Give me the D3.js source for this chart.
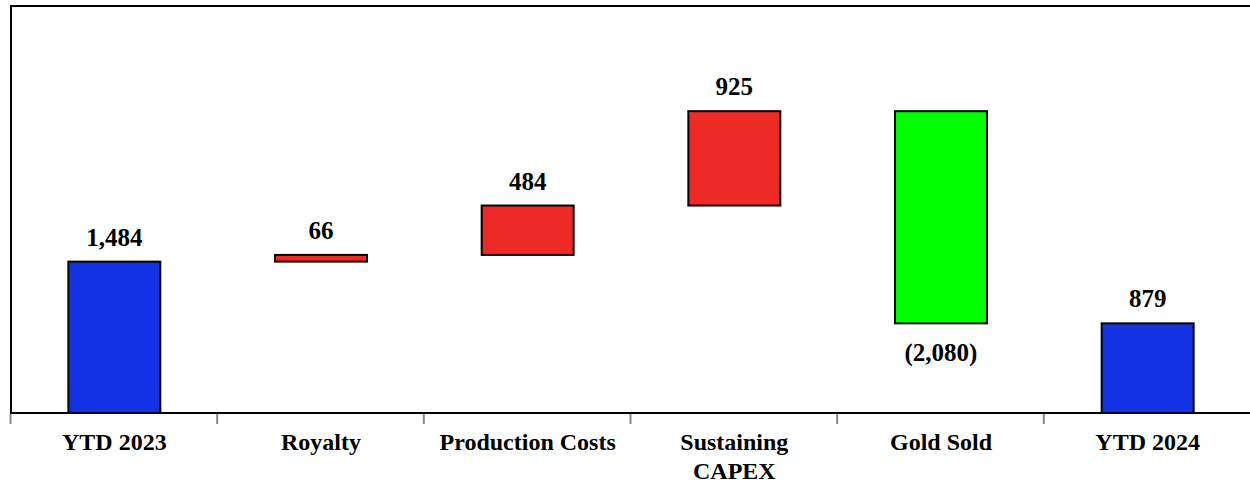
<!DOCTYPE html>
<html>
<head>
<meta charset="utf-8">
<script src="https://cdn.jsdelivr.net/npm/d3@7"></script>
<style>
  html, body { margin: 0; padding: 0; background: #fff; }
  svg { display: block; }
  text { font-family: "Liberation Serif", "Times New Roman", serif; font-weight: bold; fill: #000; }
</style>
</head>
<body>
<script>
// Waterfall: opening balance, changes, closing balance
const categories = ["YTD 2023", "Royalty", "Production Costs", "Sustaining CAPEX", "Gold Sold", "YTD 2024"];
const changes    = [1484, 66, 484, 925, -2080, 879];
const kinds      = ["total", "step", "step", "step", "step", "total"];
const labels     = ["1,484", "66", "484", "925", "(2,080)", "879"];

const colors = { total: "#1232e4", up: "#ee2a27", down: "#00ff00" };

const W = 1250, H = 485;
const plotLeft = 10, plotRight = 1250, plotTop = 5, plotBase = 413;

const svg = d3.select("body").append("svg").attr("width", W).attr("height", H);

const x = d3.scaleBand().domain(categories).range([plotLeft, plotRight]).padding(0);
const y = d3.scaleLinear().domain([0, 4000]).range([plotBase, plotTop]);

// running start/end for each bar
let running = 0;
const bars = categories.map((c, i) => {
  let y0, y1;
  if (kinds[i] === "total") { y0 = 0; y1 = changes[i]; running = changes[i]; }
  else { y0 = running; y1 = running + changes[i]; running = y1; }
  return { cat: c, y0, y1, v: changes[i], kind: kinds[i], label: labels[i] };
});

const barW = x.bandwidth() * 0.445;

svg.append("g").selectAll("rect").data(bars).join("rect")
  .attr("x", d => x(d.cat) + (x.bandwidth() - barW) / 2 + 1)
  .attr("y", d => y(Math.max(d.y0, d.y1)))
  .attr("width", barW)
  .attr("height", d => Math.abs(y(d.y0) - y(d.y1)))
  .attr("fill", d => d.kind === "total" ? colors.total : (d.v >= 0 ? colors.up : colors.down))
  .attr("stroke", "#000")
  .attr("stroke-width", 2);

// value labels: above for increases/totals, below for decreases
svg.append("g").selectAll("text").data(bars).join("text")
  .attr("x", d => x(d.cat) + x.bandwidth() / 2 + 1)
  .attr("y", d => d.v >= 0 ? y(Math.max(d.y0, d.y1)) - 16 : y(Math.min(d.y0, d.y1)) + 38)
  .attr("text-anchor", "middle")
  .style("font-size", "25px")
  .text(d => d.label);

// frame: left and top edges
svg.append("path")
  .attr("d", `M${plotLeft + 1},${plotBase} V${plotTop + 1} H${plotRight}`)
  .attr("fill", "none").attr("stroke", "#000").attr("stroke-width", 2);

// category axis baseline
svg.append("line")
  .attr("x1", plotLeft).attr("x2", plotRight).attr("y1", plotBase).attr("y2", plotBase)
  .attr("stroke", "#000").attr("stroke-width", 2);

// boundary ticks between categories
const bounds = categories.map(c => x(c));
svg.append("g").selectAll("line").data(bounds).join("line")
  .attr("x1", d => d + 0.5).attr("x2", d => d + 0.5)
  .attr("y1", plotBase + 1).attr("y2", plotBase + 11)
  .attr("stroke", "#888").attr("stroke-width", 2);

// category names, wrapped where needed
const wrap = { "Sustaining CAPEX": ["Sustaining", "CAPEX"] };
const lab = svg.append("g").selectAll("text").data(categories).join("text")
  .attr("x", d => x(d) + x.bandwidth() / 2 + 1)
  .attr("y", plotBase + 37)
  .attr("text-anchor", "middle")
  .style("font-size", "24px");
lab.each(function(d) {
  const lines = wrap[d] || [d];
  const t = d3.select(this);
  lines.forEach((ln, i) => {
    t.append("tspan").attr("x", x(d) + x.bandwidth() / 2 + 1).attr("dy", i === 0 ? 0 : 29).text(ln);
  });
});
</script>
</body>
</html>
